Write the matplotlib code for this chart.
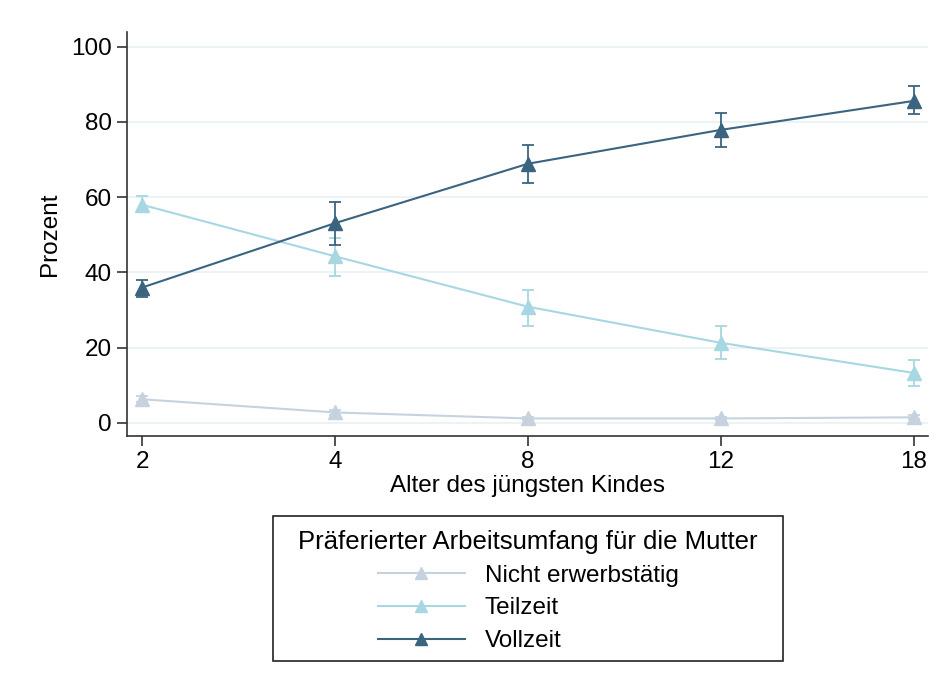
import matplotlib.pyplot as plt
from matplotlib.patches import Rectangle

plt.rcParams['font.family'] = ['Liberation Sans', 'DejaVu Sans']

alter = ['2', '4', '8', '12', '18']

nicht = [6.3, 2.8, 1.2, 1.2, 1.5]
nicht_lo = [5.5, 2.2, 0.8, 0.8, 1.0]
nicht_hi = [7.1, 3.4, 1.6, 1.6, 2.0]

teilzeit = [58.0, 44.3, 30.9, 21.3, 13.3]
teilzeit_lo = [56.2, 39.0, 25.8, 16.9, 9.7]
teilzeit_hi = [60.2, 49.2, 35.4, 25.7, 16.8]

vollzeit = [36.0, 53.1, 68.9, 77.9, 85.6]
vollzeit_lo = [33.4, 47.4, 63.7, 73.4, 82.2]
vollzeit_hi = [38.0, 58.8, 73.9, 82.4, 89.6]

reihen = [
    ('Nicht erwerbstätig', nicht, nicht_lo, nicht_hi, '#c6d3df'),
    ('Teilzeit', teilzeit, teilzeit_lo, teilzeit_hi, '#a7d7e2'),
    ('Vollzeit', vollzeit, vollzeit_lo, vollzeit_hi, '#3b6480'),
]

fig = plt.figure(figsize=(9.41, 6.89), dpi=100)
ax = fig.add_axes([0.135, 0.367, 0.851, 0.587])

x = list(range(len(alter)))
handles = []
for name, werte, lo, hi, farbe in reihen:
    err = [[w - l for w, l in zip(werte, lo)], [h - w for w, h in zip(werte, hi)]]
    ax.errorbar(x, werte, yerr=err, fmt='none', ecolor=farbe, elinewidth=1.3,
                capsize=4.5, capthick=1.3, zorder=3)
    h, = ax.plot(x, werte, color=farbe, lw=1.5, marker='^', markersize=9.5, zorder=4)
    handles.append(h)

ax.set_xlim(-0.078, 4.073)
ax.set_ylim(-3.5, 104)
ax.set_xticks(x)
ax.set_xticklabels(alter)
ax.set_yticks([0, 20, 40, 60, 80, 100])
ax.tick_params(labelsize=17.5, length=7, width=1.2, color='#333333', pad=4)
ax.grid(axis='y', color='#e8f1f3', lw=1.2)
ax.set_axisbelow(True)
for s in ['top', 'right']:
    ax.spines[s].set_visible(False)
for s in ['left', 'bottom']:
    ax.spines[s].set_color('#333333')
    ax.spines[s].set_linewidth(1.2)

ax.set_xlabel('Alter des jüngsten Kindes', fontsize=17.5, labelpad=1)
ax.set_ylabel('Prozent', fontsize=17.5, labelpad=7)

leg = fig.legend(handles, [r[0] for r in reihen], title='Präferierter Arbeitsumfang für die Mutter',
                 loc='center', bbox_to_anchor=(528 / 941, 1 - 591 / 689), fontsize=17.5,
                 title_fontsize=18.5, frameon=False,
                 handlelength=3.6, borderpad=0.3, labelspacing=0.45, handletextpad=0.8,
                 borderaxespad=0, markerscale=0.9)
# Rahmen der Legende
fig.patches.append(Rectangle((273 / 941, 1 - 661 / 689), 510 / 941, 145 / 689,
                             transform=fig.transFigure, fill=False,
                             edgecolor='#222222', lw=1.2))

fig.savefig('out.png', dpi=100)
